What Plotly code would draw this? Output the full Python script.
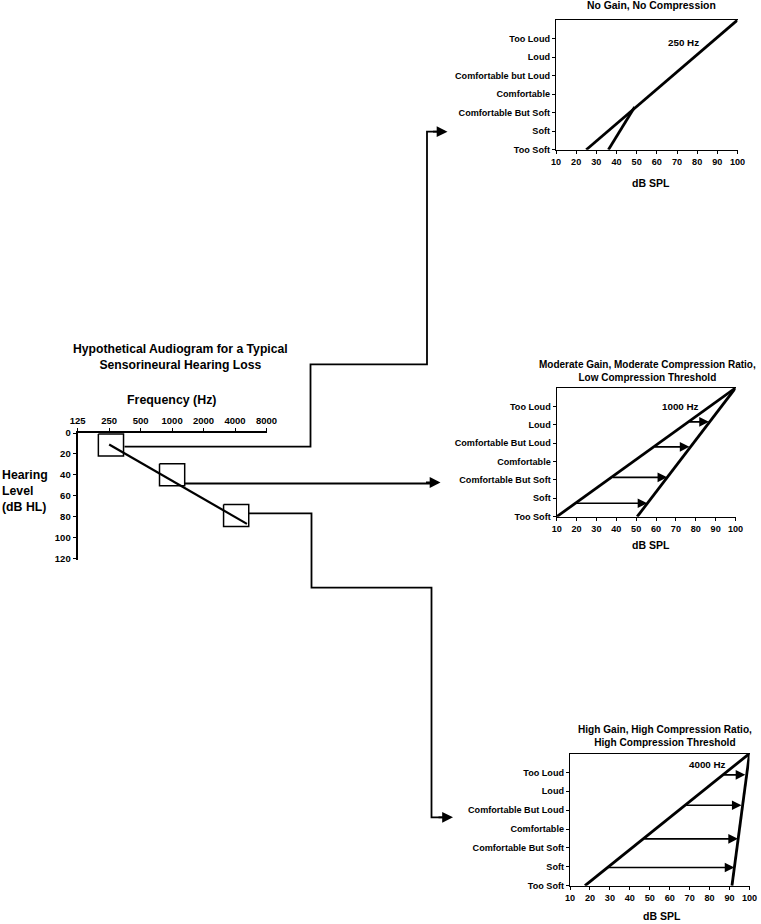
import math
import plotly.graph_objects as go

W, H = 761, 924
FONT = "Liberation Sans"

# ---------------- data ----------------
# Audiogram
aud_freqs = [250, 1000, 4000, 5200]
aud_hl = [11, 46, 81, 87]
box_freqs = [260, 1000, 4100]
box_hl = [11.5, 40, 79]
box_half_oct = 0.4
box_half_db = 10.5
freq_ticks = [125, 250, 500, 1000, 2000, 4000, 8000]
hl_ticks = [0, 20, 40, 60, 80, 100, 120]

# Loudness panels
loud_labels_top = ["Too Soft", "Soft", "Comfortable But Soft", "Comfortable",
                   "Comfortable but Loud", "Loud", "Too Loud"]
loud_labels = ["Too Soft", "Soft", "Comfortable But Soft", "Comfortable",
               "Comfortable But Loud", "Loud", "Too Loud"]
spl_ticks = [10, 20, 30, 40, 50, 60, 70, 80, 90, 100]

# Panel 1: 250 Hz
p1_a_x = [25, 100]
p1_a_y = [0, 7]
p1_b_x = [36, 49]
p1_b_y = [0, 2.3]

# Panel 2: 1000 Hz
p2_a_x = [10, 100]
p2_a_y = [0, 7]
p2_b_x = [50.5, 100]
p2_b_y = [0, 7]
p2_arrow_y = [0.73, 2.14, 3.8, 5.16]
p2_arrow_from = [19.4, 37.5, 58.7, 76.0]
p2_arrow_to = [55.6, 65.6, 76.8, 86.6]

# Panel 3: 4000 Hz
p3_a_x = [17.5, 100]
p3_a_y = [0, 7]
p3_b_x = [91.2, 100]
p3_b_y = [0, 7]
p3_arrow_y = [0.96, 2.48, 4.26, 5.87]
p3_arrow_from = [28.5, 46.5, 67.5, 86.5]
p3_arrow_to = [92.4, 94.2, 96.0, 97.9]


def px(x):
    return x / W


def py(y):
    return 1 - y / H


fig = go.Figure()

# ---------------- audiogram ----------------
fig.add_trace(go.Scatter(x=aud_freqs, y=aud_hl, mode="lines",
                         line=dict(color="black", width=2.2),
                         xaxis="x", yaxis="y", showlegend=False))
for f, hl in zip(box_freqs, box_hl):
    lo = f * 2 ** (-box_half_oct)
    hi = f * 2 ** box_half_oct
    fig.add_trace(go.Scatter(x=[lo, hi, hi, lo, lo],
                             y=[hl - box_half_db, hl - box_half_db, hl + box_half_db,
                                hl + box_half_db, hl - box_half_db],
                             mode="lines", line=dict(color="black", width=1.5),
                             xaxis="x", yaxis="y", showlegend=False))

# ---------------- panels ----------------
line_style = dict(color="black", width=2.8)
fig.add_trace(go.Scatter(x=p1_a_x, y=p1_a_y, mode="lines", line=line_style,
                         xaxis="x2", yaxis="y2", showlegend=False, cliponaxis=False))
fig.add_trace(go.Scatter(x=p1_b_x, y=p1_b_y, mode="lines", line=line_style,
                         xaxis="x2", yaxis="y2", showlegend=False, cliponaxis=False))
fig.add_trace(go.Scatter(x=p2_a_x, y=p2_a_y, mode="lines", line=line_style,
                         xaxis="x3", yaxis="y3", showlegend=False, cliponaxis=False))
fig.add_trace(go.Scatter(x=p2_b_x, y=p2_b_y, mode="lines", line=line_style,
                         xaxis="x3", yaxis="y3", showlegend=False, cliponaxis=False))
fig.add_trace(go.Scatter(x=p3_a_x, y=p3_a_y, mode="lines", line=line_style,
                         xaxis="x4", yaxis="y4", showlegend=False, cliponaxis=False))
fig.add_trace(go.Scatter(x=p3_b_x, y=p3_b_y, mode="lines", line=line_style,
                         xaxis="x4", yaxis="y4", showlegend=False, cliponaxis=False))

annotations = []
for ys, xs0, xs1, ax in [(p2_arrow_y, p2_arrow_from, p2_arrow_to, "3"),
                         (p3_arrow_y, p3_arrow_from, p3_arrow_to, "4")]:
    for yv, x0, x1 in zip(ys, xs0, xs1):
        annotations.append(dict(x=x1, y=yv, ax=x0, ay=yv,
                                xref="x" + ax, yref="y" + ax,
                                axref="x" + ax, ayref="y" + ax,
                                text="", showarrow=True, arrowhead=2,
                                arrowsize=1.2, arrowwidth=1.6, arrowcolor="black"))

bold = dict(family=FONT, color="black", weight="bold")


def txt(x, y, s, size, xanchor="center", align="center"):
    annotations.append(dict(x=px(x), y=py(y), xref="paper", yref="paper", text=s,
                            showarrow=False, xanchor=xanchor, yanchor="middle",
                            align=align, font=dict(size=size, **bold)))


# titles and labels
txt(180.5, 356.5, "Hypothetical Audiogram for a Typical<br>Sensorineural Hearing Loss", 12.2)
txt(172, 400, "Frequency (Hz)", 12.4)
txt(0, 490.5, "Hearing<br>Level<br>(dB HL)", 12.3, xanchor="left", align="left")

txt(651, 6, "No Gain, No Compression", 10.4)
txt(651, 183, "dB SPL", 10.5)
txt(647, 371, "Moderate Gain, Moderate Compression Ratio,<br>Low Compression Threshold", 10.0)
txt(651, 545, "dB SPL", 10.5)
txt(665, 736, "High Gain, High Compression Ratio,<br>High Compression Threshold", 10.1)
txt(662, 916, "dB SPL", 10.5)

for ax, xv, yv, s in [("2", 73, 5.8, "250 Hz"), ("3", 72.5, 6.0, "1000 Hz"),
                      ("4", 79, 6.4, "4000 Hz")]:
    annotations.append(dict(x=xv, y=yv, xref="x" + ax, yref="y" + ax, text=s,
                            showarrow=False, font=dict(size=9.8, **bold)))

# connector arrowheads
for (x, y) in [(447.5, 131.7), (440.5, 482.5), (453, 817.3)]:
    annotations.append(dict(x=px(x), y=py(y), xref="paper", yref="paper",
                            ax=-16, ay=0, text="", showarrow=True, arrowhead=2,
                            arrowsize=1.2, arrowwidth=1.8, arrowcolor="black"))


def path(pts):
    s = "M " + " L ".join(f"{px(a):.5f},{py(b):.5f}" for a, b in pts)
    return dict(type="path", xref="paper", yref="paper", path=s,
                line=dict(color="black", width=1.8))


shapes = [
    path([(124.5, 446.6), (310.5, 446.6), (310.5, 364.3), (427, 364.3),
          (427, 131.7), (440, 131.7)]),
    path([(185, 483.5), (430, 483.5)]),
    path([(248.7, 513.3), (311.5, 513.3), (311.5, 587.7), (431.5, 587.7),
          (431.5, 817.3), (443, 817.3)]),
]

tickfont = dict(size=9.1, **bold)
axis_common = dict(showline=True, linecolor="black", showgrid=False, zeroline=False,
                   ticks="outside", tickcolor="black", ticklen=3, tickwidth=1.2,
                   automargin=False)

layout = dict(
    template="none",
    width=W, height=H, margin=dict(l=0, r=0, t=0, b=0, pad=0, autoexpand=False),
    paper_bgcolor="white", plot_bgcolor="white",
    font=dict(family=FONT, color="black"),
    showlegend=False,
    xaxis=dict(type="log", range=[math.log10(125), math.log10(8000)],
               domain=[px(77.7), px(266.5)], anchor="y", side="top",
               tickvals=freq_ticks, ticktext=[str(v) for v in freq_ticks],
               linewidth=2.2, tickfont=dict(size=9.5, **bold), **axis_common),
    yaxis=dict(range=[122, 0], domain=[py(560.4), py(433)], anchor="x",
               tickvals=hl_ticks, ticktext=[str(v) for v in hl_ticks],
               linewidth=2.2, tickfont=dict(size=9.5, **bold), **axis_common),
    xaxis2=dict(range=[10, 100], domain=[px(556), px(737.5)], anchor="y2",
                tickvals=spl_ticks, mirror=True, linewidth=1.3, tickfont=tickfont,
                **axis_common),
    yaxis2=dict(range=[0, 7], domain=[py(149.7), py(20)], anchor="x2",
                tickvals=list(range(7)), ticktext=loud_labels_top,
                linewidth=1.3, tickfont=tickfont, **axis_common),
    xaxis3=dict(range=[10, 100], domain=[px(556.7), px(735.5)], anchor="y3",
                tickvals=spl_ticks, mirror=True, linewidth=1.3, tickfont=tickfont,
                **axis_common),
    yaxis3=dict(range=[0, 7], domain=[py(516.7), py(388)], anchor="x3",
                tickvals=list(range(7)), ticktext=loud_labels,
                linewidth=1.3, tickfont=tickfont, **axis_common),
    xaxis4=dict(range=[10, 100], domain=[px(570), px(749.5)], anchor="y4",
                tickvals=spl_ticks, mirror=True, linewidth=1.3, tickfont=tickfont,
                **axis_common),
    yaxis4=dict(range=[0, 7], domain=[py(885.7), py(753.5)], anchor="x4",
                tickvals=list(range(7)), ticktext=loud_labels,
                linewidth=1.3, tickfont=tickfont, **axis_common),
    annotations=annotations,
    shapes=shapes,
)
fig.update_layout(**layout)
fig.write_html("out.html", config={"displayModeBar": False},
               post_script="document.body.style.margin='0';document.body.style.overflow='hidden';")
